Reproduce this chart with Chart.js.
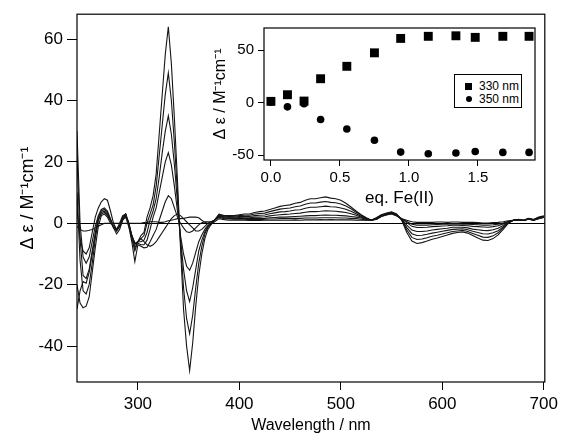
<!DOCTYPE html>
<html><head><meta charset="utf-8">
<script src="https://cdn.jsdelivr.net/npm/chart.js@4.4.1/dist/chart.umd.min.js"></script>
<style>
html,body{margin:0;padding:0;background:#fff;}
#wrap{position:relative;width:562px;height:437px;overflow:hidden;}
#main{position:absolute;left:0;top:0;}
#inset{position:absolute;left:200px;top:15px;}
#legend{position:absolute;left:454px;top:74px;width:66px;height:32px;border:1px solid #000;background:#fff;font:12px "Liberation Sans",Arial,sans-serif;color:#000;}
.row{position:absolute;left:0;width:66px;height:14px;line-height:14px;white-space:nowrap;}
.sq{position:absolute;left:10px;top:4px;width:7px;height:7px;background:#000;}
.ci{position:absolute;left:11px;top:4px;width:6px;height:6px;border-radius:50%;background:#000;}
.lbl{position:absolute;left:24px;top:0;}
</style></head>
<body>
<div id="wrap">
<canvas id="main" width="562" height="437"></canvas>
<canvas id="inset" width="345" height="200"></canvas>
<div id="legend">
 <div class="row" style="top:4px"><span class="sq"></span><span class="lbl">330 nm</span></div>
 <div class="row" style="top:17px"><span class="ci"></span><span class="lbl">350 nm</span></div>
</div>
</div>
<script>
// ---- Main spectra data ----
const wavelengths = [240,243,246,249,252,255,258,261,264,267,270,273,276,279,282,285,288,291,294,297,300,303,306,309,312,315,318,321,324,327,330,333,336,339,342,345,348,351,354,357,360,363,366,369,372,375,
 380,385,390,395,400,405,410,415,420,425,430,435,440,445,450,455,460,465,470,475,480,485,490,495,500,505,510,515,520,525,530,535,540,545,550,555,560,565,570,575,580,585,590,595,600,605,610,615,620,625,630,635,640,645,650,655,660,665,670,675,680,685,690,695,700];

const spec0 = [-1,-2,-2.5,-2.5,-2.3,-2,-1.5,-1,-0.5,0,0,0,0,0,0,0,0,0,0,0,0,0,0.2,0.3,0.5,0.5,0.5,0.3,0.3,0.5,0.8,1,1.2,1.5,1.5,1.6,1.8,2,2,2,1.8,1,0.3,0,0,0.3,
 1.5,1.2,1,1,1,1,0.9,1,0.9,1,1,1,1,1,1,1.1,1,1.1,1.1,1.1,1.2,1.1,1.2,1.1,1.1,1.1,1.1,1,1,1,1,1.2,2.2,2.7,3,2.4,1.5,1,0.5,0.3,0.3,0.3,0.3,0.4,0.4,0.3,0.4,0.4,0.3,0.3,0.3,0.2,0.1,0.1,0.2,0.3,0.5,0.8,1,1.1,0.9,1.3,1,1.5,1.9];
const spec1 = [-28,-22,-19,-19.5,-16,-10,-4,1,3,3.5,2.5,1,-1.5,-3.5,-2,1,2,-1,-4,-6.5,-6,-5,-6,-7,-7.5,-7,-6,-4.5,-3,-1.5,0,1.5,2.5,3,2.5,1.5,0.5,-0.5,-1.5,-2.5,-2.5,-2,-1,0,0.5,1,
 2,1.5,1.4,1.3,1.4,1.3,1.2,1.3,1.2,1.3,1.4,1.4,1.5,1.5,1.5,1.6,1.6,1.7,1.7,1.7,1.8,1.8,1.8,1.8,1.7,1.7,1.6,1.5,1.3,1.1,1,1.3,2.3,2.8,3.2,2.5,1.5,0.6,-0.3,-0.6,-0.6,-0.6,-0.5,-0.4,-0.3,-0.3,-0.2,-0.2,-0.3,-0.3,-0.4,-0.5,-0.6,-0.6,-0.5,-0.3,0.1,0.6,1,1.1,0.9,1.3,1,1.6,2];
const spec2 = [5,-5,-9,-10,-8,-3,2,5,7,8,7.5,4,0,-2,0,2.5,3,-1,-6,-12.5,-7,-7.5,-8,-7.8,-6,-4,-2,1,4,7,9,8,5,2,0,-1.5,-2.8,-3,-2.5,-1.5,-0.5,0.2,0.5,0.5,0.5,0.8,
 2.2,1.7,1.6,1.5,1.6,1.5,1.5,1.6,1.5,1.6,1.8,1.9,2,2,2.1,2.2,2.3,2.4,2.5,2.5,2.6,2.7,2.6,2.6,2.5,2.4,2.2,2,1.7,1.3,1,1.4,2.4,2.9,3.3,2.6,1.4,0.2,-1,-1.4,-1.4,-1.3,-1.1,-1,-0.9,-0.8,-0.6,-0.6,-0.7,-0.8,-1,-1.1,-1.2,-1.3,-1.1,-0.8,-0.2,0.5,1,1.1,0.9,1.4,1,1.6,2];
const spec3 = [30,0,-11,-13,-11,-6,-1,2.5,4.5,5,4,1.5,-1,-2.5,-1,2,3,0,-4,-6.5,-6.5,-7,-7,-5.5,-2,2,5,10,15,20,23,19,12,4,-4,-10,-14,-15.3,-13,-9.5,-6,-3.8,-2,-0.7,0.1,0.8,
 2.4,1.9,1.8,1.7,1.9,1.8,1.8,2,2,2.1,2.4,2.6,2.8,2.9,3,3.2,3.3,3.6,3.8,3.8,3.9,4.1,4,3.9,3.7,3.5,3.1,2.6,2,1.5,1,1.5,2.5,3,3.4,2.7,1.3,-0.6,-2.2,-2.7,-2.7,-2.5,-2.2,-2,-1.8,-1.6,-1.3,-1.3,-1.3,-1.5,-1.9,-2.1,-2.3,-2.4,-2.1,-1.6,-0.7,0.3,1,1.1,0.9,1.4,1.1,1.7,2.1];
const spec4 = [22,-5,-17,-18,-15,-9,-3,2,4,4.5,3.5,1,-1.5,-2.5,-1,2,3,0,-4,-7,-6,-6,-5.5,-3,1,4,8,15,23,30,35,29,19,7,-5,-15,-22,-25.5,-21,-15,-9,-5.5,-2.8,-1,-0.2,0.8,
 2.6,2.1,2,2,2.2,2.2,2.2,2.5,2.6,2.7,3.1,3.4,3.7,3.8,4,4.3,4.4,4.9,5.2,5.2,5.4,5.6,5.4,5.3,5,4.6,3.9,3.1,2.3,1.6,1,1.6,2.6,3.1,3.5,2.8,1.2,-1.4,-3.4,-4,-3.9,-3.6,-3.2,-2.9,-2.6,-2.3,-2,-1.9,-1.8,-2.1,-2.6,-3,-3.4,-3.5,-3.1,-2.4,-1.2,0.2,1,1.2,1,1.5,1.1,1.8,2.2];
const spec5 = [10,-12,-22,-23,-20,-13,-5,1,3.5,4,3,1,-1,-2,-1,1.5,2.5,0,-4,-8,-6,-5,-4,0,3,6,12,22,32,42,49,40,26,10,-6,-21,-31,-36,-30,-21,-13,-7.5,-3.5,-1.3,-0.3,0.8,
 2.8,2.3,2.2,2.3,2.5,2.6,2.6,3,3.2,3.3,3.8,4.2,4.6,4.8,5,5.4,5.6,6.2,6.6,6.6,6.9,7.1,6.8,6.7,6.3,5.6,4.7,3.6,2.6,1.7,1,1.7,2.7,3.2,3.6,2.9,1.1,-2.2,-4.6,-5.3,-5.1,-4.7,-4.2,-3.9,-3.5,-3.1,-2.7,-2.5,-2.3,-2.7,-3.3,-3.9,-4.5,-4.6,-4.1,-3.1,-1.6,0.1,1,1.2,1,1.5,1.2,1.9,2.3];
const spec6 = [-20,-26,-27.5,-27,-24,-16,-8,-1,2.5,3,2,0,-1,-2,-1,1,2.5,0,-5,-9,-6,-4,-3,2,5,9,16,29,42,55,64,52,34,14,-8,-28,-40,-48,-39,-27,-17,-10,-5,-2,-0.5,0.8,
 3,2.5,2.5,2.5,2.8,3,3,3.5,3.8,4,4.5,5,5.5,5.8,6,6.5,6.8,7.5,8,8,8.3,8.6,8.2,8,7.5,6.5,5.3,4,2.8,1.8,1,1.8,2.8,3.3,3.7,3,1,-3,-5.8,-6.6,-6.3,-5.8,-5.2,-4.8,-4.3,-3.8,-3.3,-3,-2.8,-3.2,-4,-4.8,-5.5,-5.6,-5,-3.8,-2,0,1,1.3,1,1.6,1.2,2,2.4];

const xTicks = [300,400,500,600,700];
const yTicks = [-40,-20,0,20,40,60];

// ---- Inset titration data ----
const eqFe  = [0, 0.12, 0.24, 0.36, 0.55, 0.75, 0.94, 1.14, 1.34, 1.48, 1.68, 1.87];
const de330 = [1.2, 7.5, 1.5, 22.7, 34.5, 47.3, 61, 63, 63.5, 62, 63, 63];
const de350 = [0.5, -4, -1, -16, -25, -35.8, -47, -48.5, -47.9, -46.4, -47.3, -47.3];
const insetXTicks = [0, 0.5, 1, 1.5];
const insetYTicks = [-50, 0, 50];

const FAM = '"Liberation Sans", Arial, Helvetica, sans-serif';
const frame = { id:'frame', afterDraw(chart){ const {ctx, chartArea:a} = chart; ctx.save(); ctx.strokeStyle='#000'; ctx.lineWidth=1.2; ctx.strokeRect(a.left, a.top, a.right-a.left, a.bottom-a.top); ctx.restore(); } };

const spectra = [spec0, spec1, spec2, spec3, spec4, spec5, spec6];
new Chart(document.getElementById('main'), {
  type: 'line',
  data: { datasets: spectra.map(s => ({
    data: wavelengths.map((x,i) => ({x, y: s[i]})),
    borderColor: '#151515', borderWidth: 1.1, pointRadius: 0, fill: false, tension: 0
  })) },
  options: {
    responsive: false, animation: false, devicePixelRatio: 1,
    layout: { padding: { left: 0, top: 13, right: 15, bottom: 0 } },
    plugins: { legend: { display: false }, tooltip: { enabled: false } },
    scales: {
      x: { type: 'linear', min: 240, max: 701,
        afterBuildTicks: s => { s.ticks = xTicks.map(v => ({value: v})); },
        afterFit: s => { s.height = 55; },
        border: { display: false },
        grid: { drawOnChartArea: false, drawTicks: true, tickLength: 8, color: '#000', lineWidth: 1 },
        ticks: { color: '#000', font: { family: FAM, size: 17 }, padding: 4, maxRotation: 0 },
        title: { display: true, text: 'Wavelength / nm', color: '#000', font: { family: FAM, size: 16 }, padding: { top: 0, bottom: 2 } }
      },
      y: { type: 'linear', min: -51.7, max: 68.1,
        afterBuildTicks: s => { s.ticks = yTicks.map(v => ({value: v})); },
        afterFit: s => { s.width = 77; },
        border: { display: false },
        grid: { drawOnChartArea: true, drawTicks: true, tickLength: 10, lineWidth: 1, tickColor: '#000',
          color: c => (c.tick && c.tick.value === 0) ? '#000' : 'rgba(0,0,0,0)' },
        ticks: { color: '#000', font: { family: FAM, size: 17 }, padding: 4 },
        title: { display: true, text: 'Δ ε / M⁻¹cm⁻¹', color: '#000', font: { family: FAM, size: 18 }, padding: { top: 17, bottom: 0 } }
      }
    }
  },
  plugins: [frame]
});

new Chart(document.getElementById('inset'), {
  type: 'scatter',
  data: { datasets: [
    { label: '330 nm', data: eqFe.map((x,i) => ({x, y: de330[i]})), pointStyle: 'rect', pointRadius: 6.3, backgroundColor: '#000', borderColor: '#000', borderWidth: 0 },
    { label: '350 nm', data: eqFe.map((x,i) => ({x, y: de350[i]})), pointStyle: 'circle', pointRadius: 3.8, backgroundColor: '#000', borderColor: '#000', borderWidth: 0 }
  ] },
  options: {
    responsive: false, animation: false, devicePixelRatio: 1,
    layout: { padding: { left: 0, top: 7, right: 10, bottom: 0 } },
    plugins: { legend: { display: false }, tooltip: { enabled: false } },
    scales: {
      x: { type: 'linear', min: -0.05, max: 1.913,
        afterBuildTicks: s => { s.ticks = insetXTicks.map(v => ({value: v})); },
        afterFit: s => { s.height = 55; },
        border: { display: false },
        grid: { drawOnChartArea: false, drawTicks: true, tickLength: 6, color: '#000' },
        ticks: { color: '#000', font: { family: FAM, size: 15 }, padding: 3, maxRotation: 0, callback: v => Number(v).toFixed(1) },
        title: { display: true, text: 'eq. Fe(II)', color: '#000', font: { family: FAM, size: 17 }, padding: { top: 0, bottom: 6 } }
      },
      y: { type: 'linear', min: -54.5, max: 70.9,
        afterBuildTicks: s => { s.ticks = insetYTicks.map(v => ({value: v})); },
        afterFit: s => { s.width = 64; },
        border: { display: false },
        grid: { drawOnChartArea: false, drawTicks: true, tickLength: 6, color: '#000' },
        ticks: { color: '#000', font: { family: FAM, size: 15 }, padding: 4 },
        title: { display: true, text: 'Δ ε / M⁻¹cm⁻¹', color: '#000', font: { family: FAM, size: 16 }, padding: { top: 11, bottom: 0 } }
      }
    }
  },
  plugins: [frame]
});
</script>
</body></html>
